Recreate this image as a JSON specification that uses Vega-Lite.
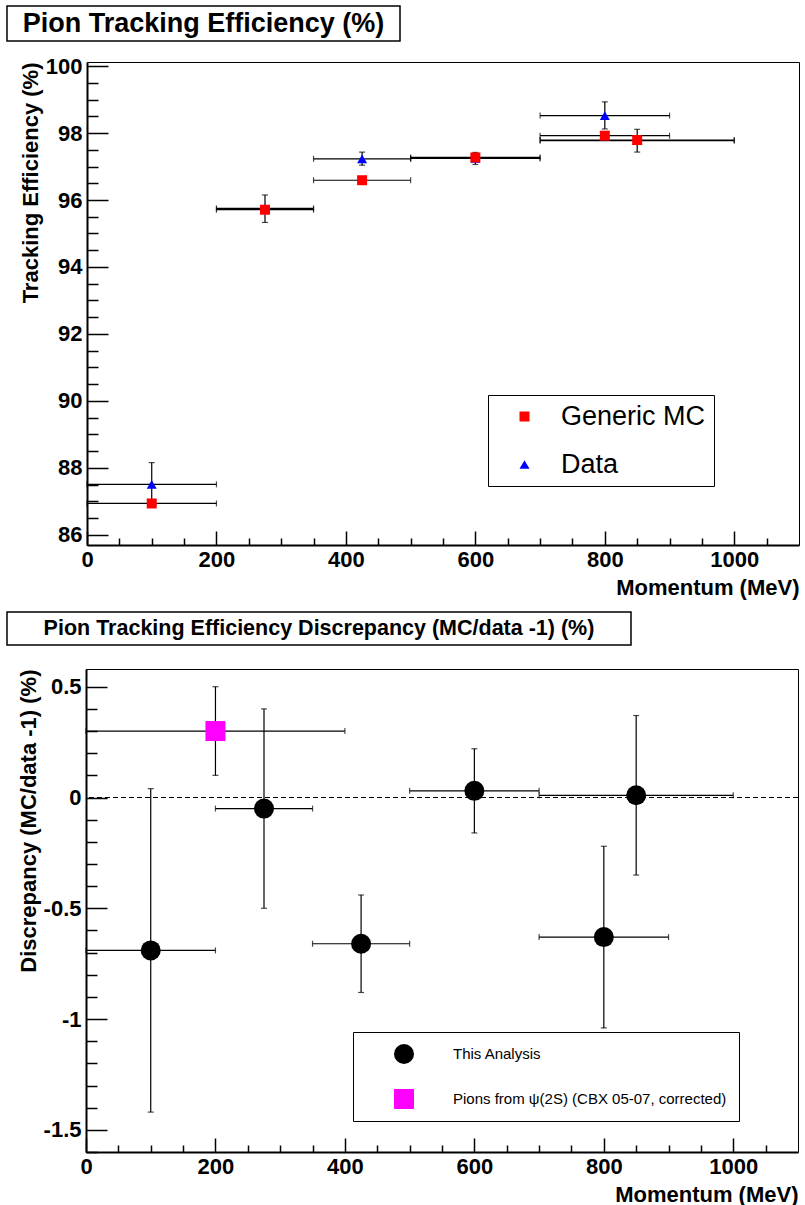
{
  "$schema": "https://vega.github.io/schema/vega-lite/v6.json",
  "padding": {"left": 4, "top": 5, "right": 0, "bottom": 0},
  "background": "white",
  "config": {
    "font": "Liberation Sans",
    "view": {"stroke": null},
    "axis": {
      "labelFont": "Liberation Sans", "labelFontSize": 22, "labelFontWeight": "bold", "labelColor": "black",
      "titleFont": "Liberation Sans", "titleFontSize": 22, "titleFontWeight": "bold", "titleColor": "black",
      "domainColor": "black", "domainWidth": 2, "tickColor": "black", "tickWidth": 1.5,
      "grid": false, "labelOverlap": false, "labelFlush": false, "titlePadding": 3
    },
    "legend": {
      "labelFont": "Liberation Sans", "labelColor": "black", "fillColor": "white",
      "strokeColor": "black", "symbolStrokeWidth": 0, "orient": "none"
    }
  },
  "datasets": {
    "eff": [
      {"series": "Data", "p": 100, "pLo": 0, "pHi": 200, "v": 87.51, "vLo": 86.86, "vHi": 88.16},
      {"series": "Data", "p": 275, "pLo": 200, "pHi": 350, "v": 95.75, "vLo": 95.33, "vHi": 96.15},
      {"series": "Data", "p": 425, "pLo": 350, "pHi": 500, "v": 97.23, "vLo": 97.04, "vHi": 97.43},
      {"series": "Data", "p": 600, "pLo": 500, "pHi": 700, "v": 97.24, "vLo": 97.06, "vHi": 97.42},
      {"series": "Data", "p": 800, "pLo": 700, "pHi": 900, "v": 98.52, "vLo": 98.12, "vHi": 98.93},
      {"series": "Data", "p": 850, "pLo": 700, "pHi": 1000, "v": 97.77, "vLo": 97.43, "vHi": 98.11},
      {"series": "Generic MC", "p": 100, "pLo": 0, "pHi": 200, "v": 86.94, "vLo": 86.89, "vHi": 86.99},
      {"series": "Generic MC", "p": 275, "pLo": 200, "pHi": 350, "v": 95.71, "vLo": 95.66, "vHi": 95.76},
      {"series": "Generic MC", "p": 425, "pLo": 350, "pHi": 500, "v": 96.59, "vLo": 96.54, "vHi": 96.64},
      {"series": "Generic MC", "p": 600, "pLo": 500, "pHi": 700, "v": 97.27, "vLo": 97.22, "vHi": 97.32},
      {"series": "Generic MC", "p": 800, "pLo": 700, "pHi": 900, "v": 97.92, "vLo": 97.87, "vHi": 97.97},
      {"series": "Generic MC", "p": 850, "pLo": 700, "pHi": 1000, "v": 97.79, "vLo": 97.74, "vHi": 97.84}
    ],
    "disc": [
      {"series": "This Analysis", "p": 100, "pLo": 0, "pHi": 200, "v": -0.69, "vLo": -1.42, "vHi": 0.04},
      {"series": "This Analysis", "p": 275, "pLo": 200, "pHi": 350, "v": -0.05, "vLo": -0.5, "vHi": 0.4},
      {"series": "This Analysis", "p": 425, "pLo": 350, "pHi": 500, "v": -0.66, "vLo": -0.88, "vHi": -0.44},
      {"series": "This Analysis", "p": 600, "pLo": 500, "pHi": 700, "v": 0.03, "vLo": -0.16, "vHi": 0.22},
      {"series": "This Analysis", "p": 800, "pLo": 700, "pHi": 900, "v": -0.63, "vLo": -1.04, "vHi": -0.22},
      {"series": "This Analysis", "p": 850, "pLo": 700, "pHi": 1000, "v": 0.01, "vLo": -0.35, "vHi": 0.37},
      {"series": "Pions from ψ(2S) (CBX 05-07, corrected)", "p": 200, "pLo": 0, "pHi": 400, "v": 0.3, "vLo": 0.1, "vHi": 0.5}
    ]
  },
  "resolve": {"scale": {"color": "independent", "shape": "independent"}},
  "spacing": 12,
  "vconcat": [
    {
      "spacing": 12,
      "vconcat": [
        {
          "width": 393, "height": 35,
          "view": {"stroke": "black", "strokeWidth": 1.5},
          "data": {"values": [{"t": "Pion Tracking Efficiency (%)"}]},
          "mark": {"type": "text", "fontSize": 27, "fontWeight": "bold", "align": "center", "baseline": "middle", "color": "black"},
          "encoding": {"text": {"field": "t"}}
        },
        {
          "spacing": 7,
          "hconcat": [
            {"width": 1, "height": 1, "data": {"values": [{}]}, "mark": {"type": "point", "opacity": 0}, "encoding": {}},
            {
              "width": 712, "height": 483,
              "view": {"stroke": "black", "strokeWidth": 1},
              "data": {"name": "eff"},
              "layer": [
                {
                  "mark": {"type": "rule", "color": "black", "strokeWidth": 1.2},
                  "encoding": {
                    "x": {"field": "pLo", "type": "quantitative",
                      "scale": {"domain": [0, 1100], "nice": false, "zero": false},
                      "axis": {
                        "title": "Momentum (MeV)", "titleAnchor": "end", "titlePadding": 0,
                        "tickCount": 200,
                        "values": [0, 50, 100, 150, 200, 250, 300, 350, 400, 450, 500, 550, 600, 650, 700, 750, 800, 850, 900, 950, 1000, 1050],
                        "labelExpr": "datum.value % 200 === 0 ? toString(datum.value) : ''",
                        "tickSize": {"condition": {"test": "datum.value % 200 === 0", "value": -14}, "value": -7},
                        "labelPadding": 18
                      }},
                    "x2": {"field": "pHi"},
                    "y": {"field": "v", "type": "quantitative",
                      "scale": {"domain": [85.7, 100.12], "nice": false, "zero": false},
                      "axis": {
                        "title": "Tracking Efficiency (%)", "titleAnchor": "end",
                        "tickCount": 200,
                        "values": [86, 86.5, 87, 87.5, 88, 88.5, 89, 89.5, 90, 90.5, 91, 91.5, 92, 92.5, 93, 93.5, 94, 94.5, 95, 95.5, 96, 96.5, 97, 97.5, 98, 98.5, 99, 99.5, 100],
                        "labelExpr": "datum.value % 2 === 0 ? toString(datum.value) : ''",
                        "tickSize": {"condition": {"test": "datum.value % 2 === 0", "value": -21}, "value": -11},
                        "labelPadding": 26
                      }}
                  }
                },
                {
                  "transform": [{"fold": ["pLo", "pHi"], "as": ["end", "px"]}],
                  "mark": {"type": "tick", "orient": "vertical", "size": 6, "thickness": 1.2, "color": "black"},
                  "encoding": {
                    "x": {"field": "px", "type": "quantitative"},
                    "y": {"field": "v", "type": "quantitative"}
                  }
                },
                {
                  "mark": {"type": "rule", "color": "black", "strokeWidth": 1.2},
                  "encoding": {
                    "x": {"field": "p", "type": "quantitative"},
                    "y": {"field": "vLo", "type": "quantitative"},
                    "y2": {"field": "vHi"}
                  }
                },
                {
                  "transform": [{"fold": ["vLo", "vHi"], "as": ["end", "py"]}],
                  "mark": {"type": "tick", "orient": "horizontal", "size": 6, "thickness": 1.2, "color": "black"},
                  "encoding": {
                    "x": {"field": "p", "type": "quantitative"},
                    "y": {"field": "py", "type": "quantitative"}
                  }
                },
                {
                  "mark": {"type": "point", "filled": true, "size": 100, "opacity": 1},
                  "encoding": {
                    "x": {"field": "p", "type": "quantitative"},
                    "y": {"field": "v", "type": "quantitative"},
                    "color": {"field": "series", "type": "nominal",
                      "scale": {"domain": ["Generic MC", "Data"], "range": ["#ff0000", "#0000ff"]},
                      "legend": {"title": null, "legendX": 481, "legendY": 389, "padding": 8, "labelFontSize": 27, "labelOffset": 23, "symbolOffset": 15, "symbolSize": 100, "rowPadding": 20}},
                    "shape": {"field": "series", "type": "nominal",
                      "scale": {"domain": ["Generic MC", "Data"], "range": ["square", "triangle-up"]},
                      "legend": {"title": null, "legendX": 481, "legendY": 389, "padding": 8, "labelFontSize": 27, "labelOffset": 23, "symbolOffset": 15, "symbolSize": 100, "rowPadding": 20}}
                  }
                }
              ]
            }
          ]
        }
      ]
    },
    {
      "spacing": 20,
      "vconcat": [
        {
          "width": 624, "height": 33,
          "view": {"stroke": "black", "strokeWidth": 1.5},
          "data": {"values": [{"t": "Pion Tracking Efficiency Discrepancy (MC/data -1) (%)"}]},
          "mark": {"type": "text", "fontSize": 21.5, "fontWeight": "bold", "align": "center", "baseline": "middle", "color": "black"},
          "encoding": {"text": {"field": "t"}}
        },
        {
          "spacing": 5,
          "hconcat": [
            {"width": 1, "height": 1, "data": {"values": [{}]}, "mark": {"type": "point", "opacity": 0}, "encoding": {}},
            {
              "width": 712, "height": 483,
              "view": {"stroke": "black", "strokeWidth": 1},
              "data": {"name": "disc"},
              "layer": [
                {
                  "data": {"values": [{"ref": 0}]},
                  "mark": {"type": "rule", "color": "black", "strokeWidth": 1, "strokeDash": [5, 3]},
                  "encoding": {
                    "y": {"field": "ref", "type": "quantitative",
                      "scale": {"domain": [-1.6, 0.58], "nice": false, "zero": false},
                      "axis": {
                        "title": "Discrepancy (MC/data -1) (%)", "titleAnchor": "end",
                        "tickCount": 200,
                        "values": [-1.6, -1.5, -1.4, -1.3, -1.2, -1.1, -1, -0.9, -0.8, -0.7, -0.6, -0.5, -0.4, -0.3, -0.2, -0.1, 0, 0.1, 0.2, 0.3, 0.4, 0.5],
                        "labelExpr": "abs(datum.value * 2 - round(datum.value * 2)) < 0.001 ? toString(datum.value) : ''",
                        "tickSize": {"condition": {"test": "abs(datum.value * 2 - round(datum.value * 2)) < 0.001", "value": -21}, "value": -11},
                        "labelPadding": 26
                      }}
                  }
                },
                {
                  "mark": {"type": "rule", "color": "black", "strokeWidth": 1.2},
                  "encoding": {
                    "x": {"field": "pLo", "type": "quantitative",
                      "scale": {"domain": [0, 1100], "nice": false, "zero": false},
                      "axis": {
                        "title": "Momentum (MeV)", "titleAnchor": "end", "titlePadding": 0,
                        "tickCount": 200,
                        "values": [0, 50, 100, 150, 200, 250, 300, 350, 400, 450, 500, 550, 600, 650, 700, 750, 800, 850, 900, 950, 1000, 1050],
                        "labelExpr": "datum.value % 200 === 0 ? toString(datum.value) : ''",
                        "tickSize": {"condition": {"test": "datum.value % 200 === 0", "value": -14}, "value": -7},
                        "labelPadding": 18
                      }},
                    "x2": {"field": "pHi"},
                    "y": {"field": "v", "type": "quantitative"}
                  }
                },
                {
                  "transform": [{"fold": ["pLo", "pHi"], "as": ["end", "px"]}],
                  "mark": {"type": "tick", "orient": "vertical", "size": 6, "thickness": 1.2, "color": "black"},
                  "encoding": {
                    "x": {"field": "px", "type": "quantitative"},
                    "y": {"field": "v", "type": "quantitative"}
                  }
                },
                {
                  "mark": {"type": "rule", "color": "black", "strokeWidth": 1.2},
                  "encoding": {
                    "x": {"field": "p", "type": "quantitative"},
                    "y": {"field": "vLo", "type": "quantitative"},
                    "y2": {"field": "vHi"}
                  }
                },
                {
                  "transform": [{"fold": ["vLo", "vHi"], "as": ["end", "py"]}],
                  "mark": {"type": "tick", "orient": "horizontal", "size": 6, "thickness": 1.2, "color": "black"},
                  "encoding": {
                    "x": {"field": "p", "type": "quantitative"},
                    "y": {"field": "py", "type": "quantitative"}
                  }
                },
                {
                  "mark": {"type": "point", "filled": true, "size": 400, "opacity": 1},
                  "encoding": {
                    "x": {"field": "p", "type": "quantitative"},
                    "y": {"field": "v", "type": "quantitative"},
                    "color": {"field": "series", "type": "nominal",
                      "scale": {"domain": ["This Analysis", "Pions from ψ(2S) (CBX 05-07, corrected)"], "range": ["#000000", "#ff00ff"]},
                      "legend": {"title": null, "legendX": 346, "legendY": 420, "padding": 12, "labelFontSize": 15, "labelOffset": 39, "symbolOffset": 29, "symbolSize": 400, "rowPadding": 25, "labelLimit": 400}},
                    "shape": {"field": "series", "type": "nominal",
                      "scale": {"domain": ["This Analysis", "Pions from ψ(2S) (CBX 05-07, corrected)"], "range": ["circle", "square"]},
                      "legend": {"title": null, "legendX": 346, "legendY": 420, "padding": 12, "labelFontSize": 15, "labelOffset": 39, "symbolOffset": 29, "symbolSize": 400, "rowPadding": 25, "labelLimit": 400}}
                  }
                }
              ]
            }
          ]
        }
      ]
    }
  ]
}
